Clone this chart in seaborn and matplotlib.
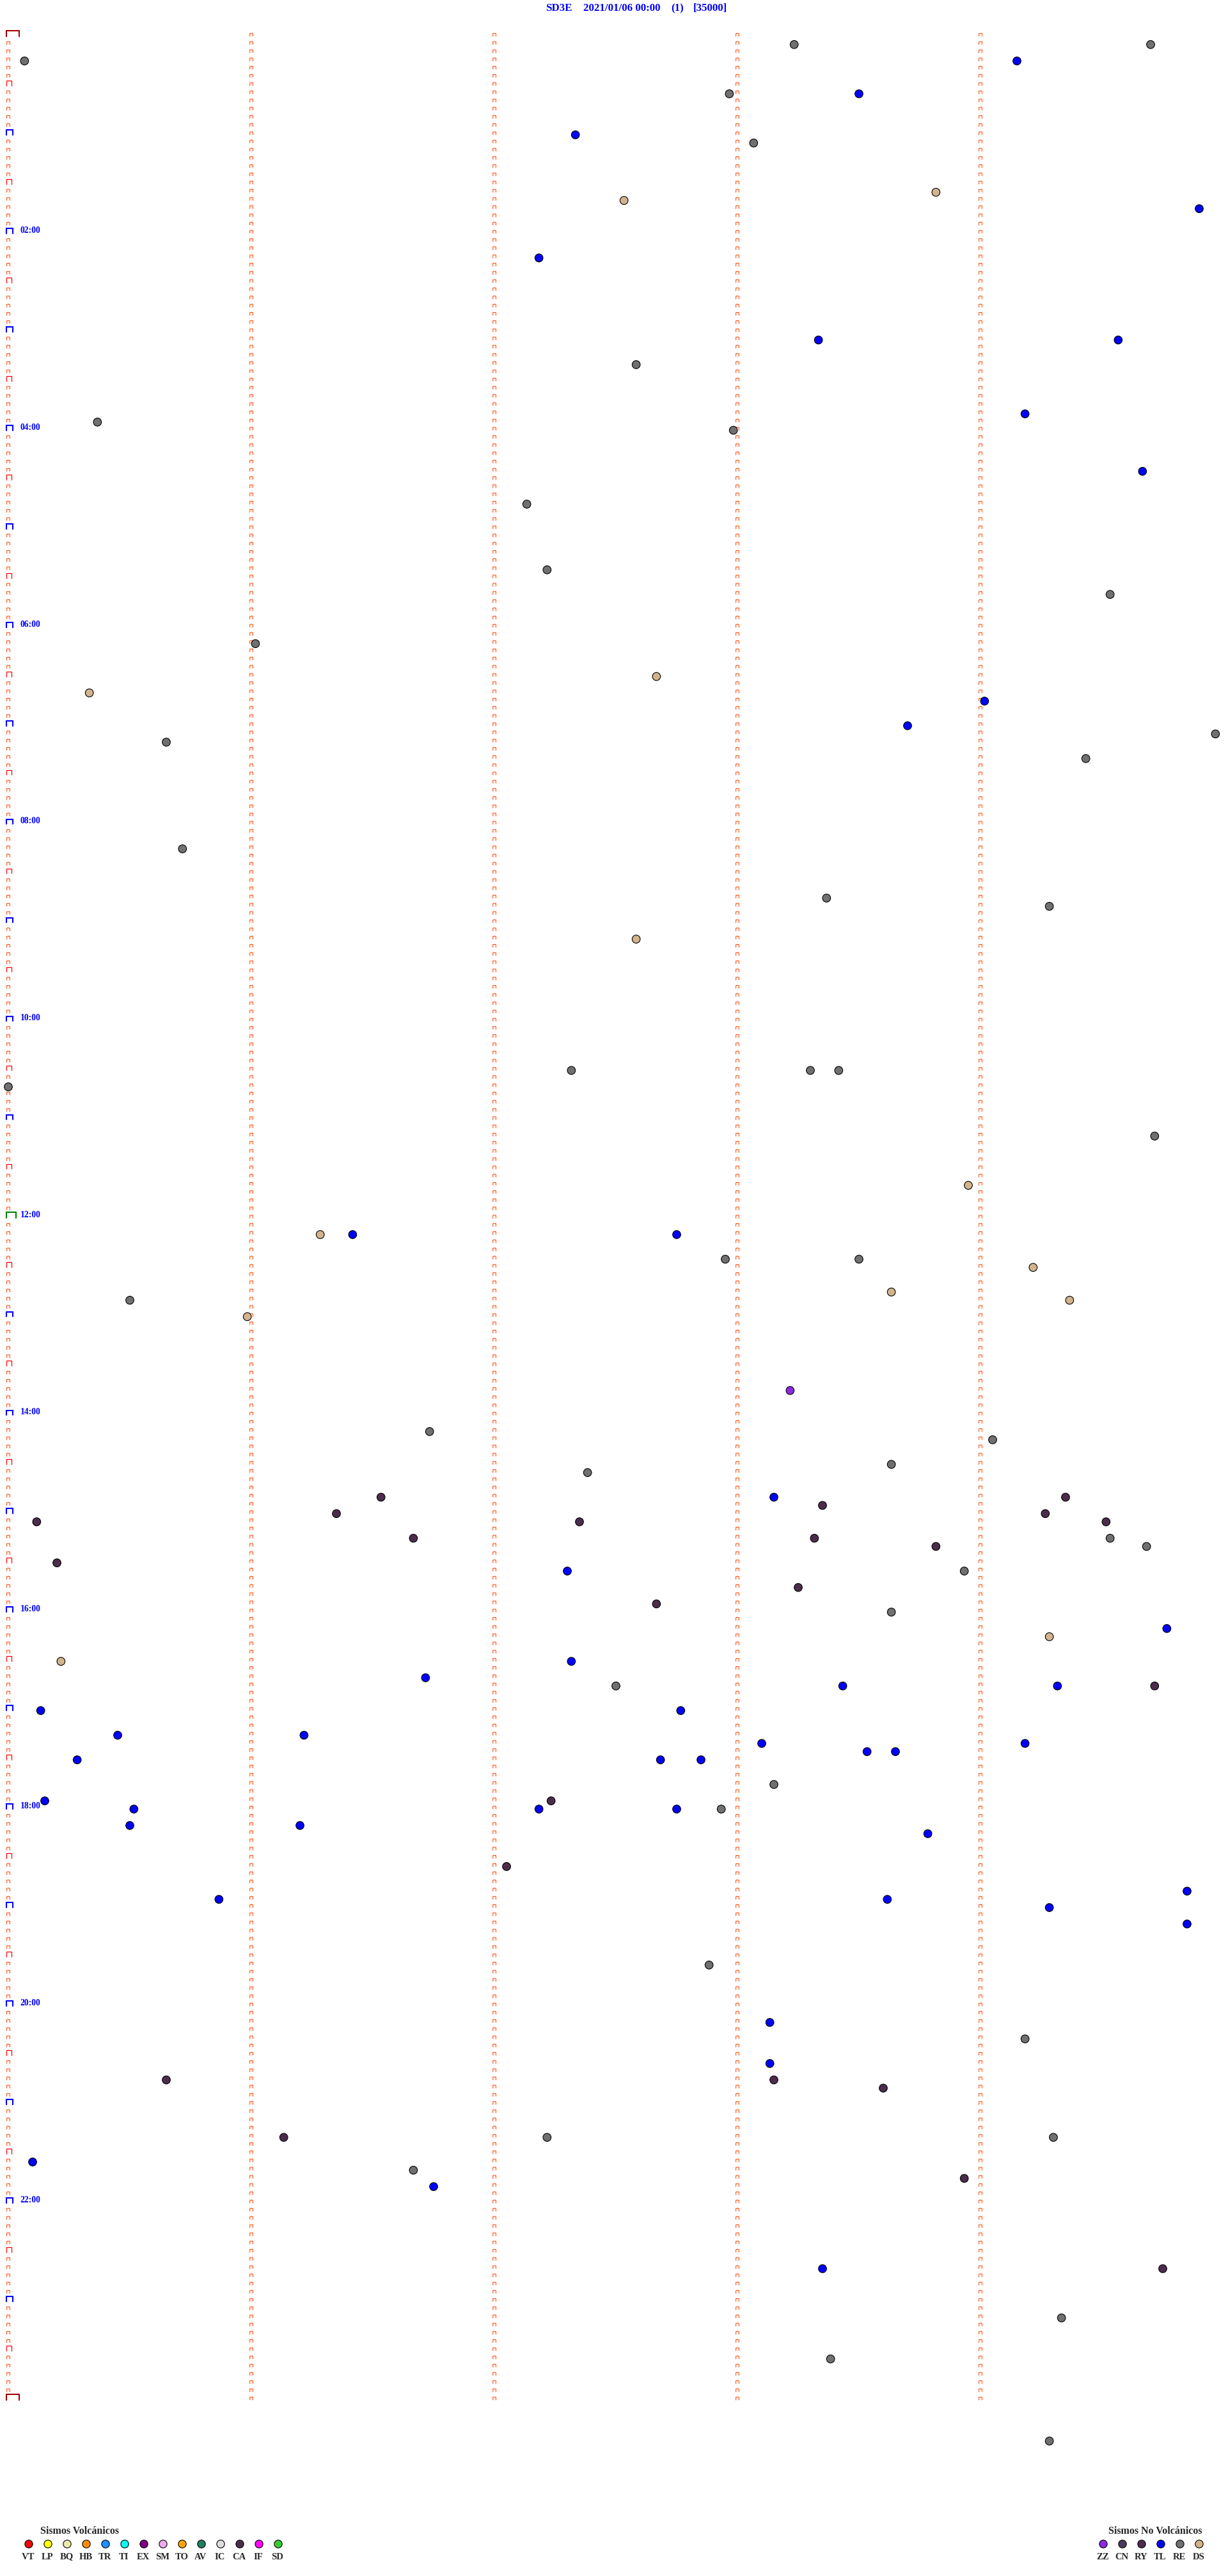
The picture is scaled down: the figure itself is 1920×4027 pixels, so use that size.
import matplotlib
matplotlib.use('Agg')
import matplotlib.pyplot as plt
import numpy as np
import pandas as pd
import seaborn as sns

# header
station = 'SD3E'
start_label = '2021/01/06 00:00'
channel = '(1)'
scale_label = '[35000]'

re_times = ['00:08:14', '00:09:42', '00:15:04', '00:37:58', '01:08:04', '03:22:35', '03:55:22',
            '04:02:59', '04:47:08', '05:27:13', '05:44:32', '06:11:01', '07:09:58', '07:10:39',
            '07:24:26', '08:15:43', '08:48:22', '08:54:17', '10:32:19', '10:33:18', '10:33:25',
            '10:40:00', '11:14:43', '12:27:57', '12:28:30', '12:50:30', '14:11:44', '14:19:03',
            '14:33:38', '14:37:23', '15:19:32', '15:24:41', '15:38:56', '16:03:38', '16:47:30',
            '17:48:09', '18:02:56', '19:37:53', '20:24:11', '21:22:13', '21:24:18', '21:41:40',
            '23:14:20', '23:38:23', '24:29:17']
tl_times = ['00:19:09', '00:38:30', '01:02:20', '01:49:54', '02:17:11', '03:08:20', '03:09:34',
            '03:54:11', '04:29:40', '06:49:01', '07:03:42', '12:11:25', '12:12:45', '14:53:09',
            '15:37:18', '16:14:46', '16:32:19', '16:41:43', '16:48:26', '16:49:19', '17:00:08',
            '17:02:46', '17:15:27', '17:16:13', '17:23:06', '17:24:11', '17:28:32', '17:28:39',
            '17:30:17', '17:32:41', '17:32:51', '17:55:09', '18:00:31', '18:02:11', '18:02:45',
            '18:10:30', '18:11:12', '18:18:47', '18:54:51', '18:55:52', '18:58:37', '19:04:17',
            '19:14:51', '20:13:08', '20:38:08', '21:35:06', '21:51:45', '22:43:21']
ds_times = ['01:38:49', '01:42:32', '06:32:40', '06:40:20', '09:12:35', '11:43:57', '12:11:17',
            '12:34:13', '12:48:38', '12:54:22', '13:00:59', '16:19:17', '16:30:13']
ca_times = ['14:51:32', '14:54:21', '14:58:21', '15:01:21', '15:04:16', '15:05:07', '15:07:21',
            '15:09:31', '15:16:40', '15:18:19', '15:23:49', '15:30:12', '15:48:15', '15:57:40',
            '16:49:43', '17:57:14', '18:37:03', '20:45:39', '20:48:09', '20:53:36', '21:21:08',
            '21:48:56', '22:44:45']
zz_times = ['13:48:13']

# legend
volc_codes = ['VT', 'LP', 'BQ', 'HB', 'TR', 'TI', 'EX', 'SM', 'TO', 'AV', 'IC', 'CA', 'IF', 'SD']
volc_colors = ['#ff0000', '#ffff00', '#eee8aa', '#ff8c00', '#1e90ff', '#00ffff', '#800080',
               '#eeaaee', '#ffa500', '#1f7f60', '#dcdcdc', '#4b2d4b', '#ff00ff', '#32cd32']
novolc_codes = ['ZZ', 'CN', 'RY', 'TL', 'RE', 'DS']
novolc_colors = ['#8a2be2', '#4b3a5a', '#4b2d4b', '#0000ff', '#707070', '#d2b48c']

event_colors = {'RE': '#707070', 'TL': '#0000ff', 'DS': '#d2b48c', 'CA': '#4b2d4b', 'ZZ': '#8a2be2'}


def to_seconds(s):
    h, m, sec = s.split(':')
    return int(h) * 3600 + int(m) * 60 + int(sec)


rows = []
for code, times in [('RE', re_times), ('TL', tl_times), ('DS', ds_times),
                    ('CA', ca_times), ('ZZ', zz_times)]:
    for t in times:
        rows.append({'tipo': code, 'sec': to_seconds(t)})
df = pd.DataFrame(rows)
line_sec = 300  # 5 minutes per trace line
df['line'] = df['sec'] // line_sec
df['minute'] = (df['sec'] % line_sec) / 60.0

W, H = 1920, 4027
px_min = 380.0   # px per minute
px_row = 12.83   # px per line
x0_px, y0_px = 13.0, 56.8

sns.set_style('white')
plt.rcParams['font.family'] = ['Liberation Serif', 'DejaVu Serif']

fig = plt.figure(figsize=(W / 100, H / 100), dpi=100)
ax = fig.add_axes([0, 0, 1, 1])
ax.set_xlim(-x0_px / px_min, (W - x0_px) / px_min)
ax.set_ylim((H - y0_px) / px_row, -y0_px / px_row)
ax.axis('off')


def marks(xc_px, lines, w_px, h_px):
    xs, ys = [], []
    for k in lines:
        xl = (xc_px - w_px / 2 - x0_px) / px_min
        xr = (xc_px + w_px / 2 - x0_px) / px_min
        top = k - h_px / px_row
        xs += [xl, xl, xr, xr, np.nan]
        ys += [k, top, top, k, np.nan]
    return xs, ys


n_lines = 24 * 12
all_lines = np.arange(n_lines + 1)
# minute ticks on every line
for m in range(5):
    col_px = x0_px + m * px_min
    ln = all_lines if m > 0 else all_lines[all_lines % 6 != 0]
    xs, ys = marks(col_px, ln, 4.7, 4.5)
    ax.plot(xs, ys, color='#ff4500', lw=0.75, solid_joinstyle='miter')

half = all_lines[(all_lines % 6 == 0) & (all_lines % 12 != 0)]
xs, ys = marks(14.3, half, 7.7, 7.8)
ax.plot(xs, ys, color='#ff0000', lw=0.9, solid_joinstyle='miter')

hours = all_lines[(all_lines % 12 == 0) & (all_lines != 0) & (all_lines != n_lines) & (all_lines != 144)]
xs, ys = marks(15.0, hours, 10.0, 7.7)
ax.plot(xs, ys, color='#0000ff', lw=1.5, solid_joinstyle='miter')

xs, ys = marks(17.3, [144], 14.7, 9.2)
ax.plot(xs, ys, color='#008000', lw=1.5, solid_joinstyle='miter')

xs, ys = marks(20.0, [0, n_lines], 20.0, 9.0)
ax.plot(xs, ys, color='#a00000', lw=1.5, solid_joinstyle='miter')

for h in range(2, 24, 2):
    ax.text((31.5 - x0_px) / px_min, h * 12 - 4.5 / px_row, f'{h:02d}:00',
            color='#0000ff', fontsize=9.8, fontweight='bold', ha='left', va='center')

sns.scatterplot(data=df, x='minute', y='line', hue='tipo', palette=event_colors,
                s=82, edgecolor='black', linewidth=0.8, legend=False, ax=ax, zorder=5)

# overlay in pixel coordinates for header and legend
lax = fig.add_axes([0, 0, 1, 1], facecolor='none')
lax.set_xlim(0, W)
lax.set_ylim(H, 0)
lax.axis('off')

hdr = dict(color='#0000ff', fontsize=12.2, fontweight='bold', va='center', ha='left')
lax.text(853, 13, station, **hdr)
lax.text(912, 13, start_label, **hdr)
lax.text(1049, 13, channel, **hdr)
lax.text(1084, 13, scale_label, **hdr)

lax.text(63, 3957, 'Sismos Volcánicos', fontsize=11.5, fontweight='bold', ha='left', va='center')
lx = [45 + 30 * i for i in range(len(volc_codes))]
lax.scatter(lx, [3977] * len(lx), s=78, c=volc_colors, edgecolors='black', linewidths=0.8)
for x, c in zip(lx, volc_codes):
    lax.text(x - 1, 3997, c, fontsize=10.5, fontweight='bold', ha='center', va='center')

lax.text(1733, 3957, 'Sismos No Volcánicos', fontsize=11.5, fontweight='bold', ha='left', va='center')
rx = [1725 + 30 * i for i in range(len(novolc_codes))]
lax.scatter(rx, [3977] * len(rx), s=78, c=novolc_colors, edgecolors='black', linewidths=0.8)
for x, c in zip(rx, novolc_codes):
    lax.text(x - 1, 3997, c, fontsize=10.5, fontweight='bold', ha='center', va='center')

fig.savefig('out.png', dpi=100, facecolor='white')
